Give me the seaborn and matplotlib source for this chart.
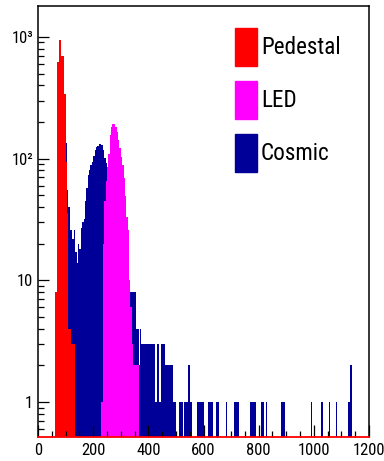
import numpy as np
import pandas as pd
import matplotlib
matplotlib.use("Agg")
import matplotlib.pyplot as plt
import seaborn as sns
from matplotlib import font_manager
from matplotlib.font_manager import FontProperties
from matplotlib.patches import Patch
from matplotlib.ticker import MultipleLocator, LogLocator, NullFormatter

# ---- histogram contents (ADC counts, 5-unit bins) ----
BIN_WIDTH = 5
X_MAX = 1200

pedestal_start = 60
pedestal_counts = [8, 8, 625, 944, 944, 697, 697, 340, 94, 36, 4, 4, 3, 3, 3]

led_start = 230
led_counts = [1, 20, 45, 65, 85, 110, 155, 181, 192, 192, 183, 166, 141, 122,
              103, 89, 69, 49, 33, 26, 10, 6, 3, 2, 2, 2, 2]

cosmic_start = 100
cosmic_counts = [134, 55, 40, 26, 26, 22, 26, 17, 14, 20, 18, 27, 30, 32, 45,
                 57, 73, 80, 88, 94, 105, 117, 124, 128, 131, 131, 129, 117,
                 101, 92, 85, 80, 70, 60, 50, 42, 35, 30, 26, 22, 19, 16, 14,
                 12, 11, 9, 8, 8, 8, 8, 8, 4, 4, 2, 4, 3, 3, 3, 3, 3, 3, 3, 3,
                 3, 3, 1, 3, 3, 1, 3, 3, 3, 2, 2, 2, 2, 2, 2, 1, 1]
# sparse high-amplitude tail of the cosmic spectrum (bin low edges)
cosmic_tail_bins = [510, 515, 520, 530, 535, 540, 545, 550, 555, 575, 580, 585,
                    590, 595, 615, 620, 625, 630, 645, 650, 680, 710, 715, 720,
                    725, 770, 775, 780, 785, 810, 815, 825, 880, 885, 890, 990,
                    1025, 1030, 1055, 1080, 1125, 1130, 1135]
cosmic_tail_counts = [1, 1, 1, 1, 1, 1, 2, 1, 1, 1, 1, 1, 1, 1, 1, 1, 1, 1, 1,
                      1, 1, 1, 1, 1, 1, 1, 1, 1, 1, 1, 1, 1, 1, 1, 1, 1, 1, 1,
                      1, 1, 1, 2, 2]

labels = ["Pedestal", "LED", "Cosmic"]
colors = ["#ff0000", "#ff00ff", "#000099"]

x_ticks = [0, 200, 400, 600, 800, 1000, 1200]
y_ticks = [1, 10, 100, 1000]
y_ticklabels = ["1", "10", "10\u00b2", "10\u00b3"]


# ---- fonts: prefer a narrow Helvetica-like face ----
def _weight(w):
    if isinstance(w, str):
        return font_manager.weight_dict.get(w, 400)
    return w


def pick_narrow_font():
    prefs = ["Liberation Sans Narrow", "Arial Narrow", "Roboto Condensed",
             "Noto Sans", "Open Sans", "DejaVu Sans", "Roboto", "Inter", "Lato"]
    found = []
    for f in font_manager.fontManager.ttflist:
        narrow = (f.stretch in ("condensed", "semi-condensed")
                  or "Narrow" in f.name or "Condensed" in f.name)
        if narrow and f.style == "normal" and 350 <= _weight(f.weight) <= 450:
            rank = next((i for i, p in enumerate(prefs) if f.name.startswith(p)), len(prefs))
            found.append((rank, f.fname))
    if found:
        found.sort()
        return found[0][1], True
    return font_manager.findfont("Liberation Sans"), False


font_path, is_narrow = pick_narrow_font()
scale = 1.0 if is_narrow else 0.8
tick_fp = FontProperties(fname=font_path, size=12 * scale)
legend_size = 16.7 * scale
legend_fp = FontProperties(fname=font_path, size=legend_size)


def bin_centers(start, n):
    return start + BIN_WIDTH * (np.arange(n) + 0.5)


cosmic_df = pd.DataFrame({
    "adc": np.concatenate([bin_centers(cosmic_start, len(cosmic_counts)),
                           np.asarray(cosmic_tail_bins) + BIN_WIDTH / 2]),
    "entries": np.concatenate([cosmic_counts, cosmic_tail_counts]).astype(float),
})
pedestal_df = pd.DataFrame({"adc": bin_centers(pedestal_start, len(pedestal_counts)),
                            "entries": np.asarray(pedestal_counts, float)})
led_df = pd.DataFrame({"adc": bin_centers(led_start, len(led_counts)),
                       "entries": np.asarray(led_counts, float)})

W, H = 384, 461
fig = plt.figure(figsize=(W / 100, H / 100), dpi=100)
ax = fig.add_axes([38 / W, 1 - 437 / H, 331 / W, 431 / H])

# cosmic first, pedestal and LED drawn on top
for df, color, label in [(cosmic_df, colors[2], labels[2]),
                         (pedestal_df, colors[0], labels[0]),
                         (led_df, colors[1], labels[1])]:
    sns.histplot(data=df, x="adc", weights="entries", binwidth=BIN_WIDTH,
                 binrange=(0, X_MAX), element="step", fill=True,
                 color=color, alpha=1, linewidth=0, ax=ax, label=label)

ax.set_yscale("log")
ax.set_xlim(0, X_MAX)
ax.set_ylim(0.516, 1795)
ax.set_xlabel("")
ax.set_ylabel("")

# axes decoration
ax.set_xticks(x_ticks)
ax.set_xticklabels([str(t) for t in x_ticks])
ax.xaxis.set_minor_locator(MultipleLocator(50))
ax.set_yticks(y_ticks)
ax.set_yticklabels(y_ticklabels)
ax.yaxis.set_minor_locator(LogLocator(base=10, subs=np.arange(2, 10), numticks=20))
ax.yaxis.set_minor_formatter(NullFormatter())
for lab in ax.get_xticklabels() + ax.get_yticklabels():
    lab.set_fontproperties(tick_fp)

ax.tick_params(axis="x", which="major", direction="in", length=8.5, width=0.9,
               pad=4, colors="black")
ax.tick_params(axis="x", which="minor", direction="in", length=4.3, width=0.9)
ax.tick_params(axis="y", which="major", direction="in", length=8, width=0.9, pad=3.5)
ax.tick_params(axis="y", which="minor", direction="in", length=4.3, width=0.9)

for side in ["left", "top", "right"]:
    ax.spines[side].set_color("black")
    ax.spines[side].set_linewidth(1.1)
ax.spines["bottom"].set_color("#ff0000")
ax.spines["bottom"].set_linewidth(1.3)

# legend with tall colour boxes (38 px high, 22 px wide); the patch height is
# fontsize*handleheight minus the legend's descent 0.35*fontsize*(handleheight-0.7)
fs_px = legend_size * 100 / 72
box_h = 38.0
hh = (box_h / fs_px - 0.245) / 0.65
handles = [Patch(facecolor=c, edgecolor=c, label=l) for c, l in zip(colors, labels)]
ax.legend(handles=handles, loc="upper left",
          bbox_to_anchor=(235 / W, 1 - 28 / H), bbox_transform=fig.transFigure,
          frameon=False, borderpad=0, borderaxespad=0,
          handlelength=22 / fs_px, handleheight=hh,
          handletextpad=4 / fs_px, labelspacing=(53 - box_h) / fs_px,
          prop=legend_fp)

fig.savefig("out.png", dpi=100)
